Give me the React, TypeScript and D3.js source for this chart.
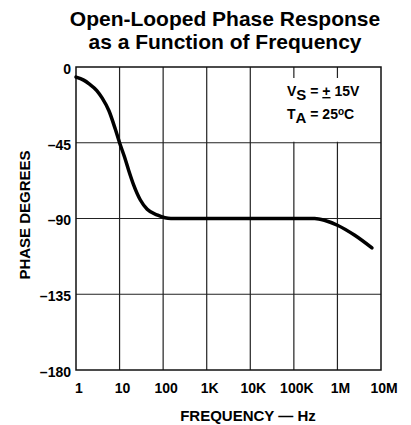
import { useEffect, useRef } from 'react';
import * as d3 from 'd3';

// values
const freqHz = [1, 1.5, 2, 3, 4, 5.7, 8, 10, 13, 16, 21, 30, 43, 75, 150, 1e3, 1e4, 1e5, 3e5, 5e5, 1e6, 2.5e6, 6.2e6];
const phaseDeg = [-6, -7.8, -10, -14, -18.5, -26, -37, -45, -53.5, -61, -70, -79, -84.5, -88, -90, -90, -90, -90, -90, -91, -94, -100, -107.5];

const xTicks = [1, 10, 100, 1e3, 1e4, 1e5, 1e6, 1e7];
const xTickLabels = ['1', '10', '100', '1K', '10K', '100K', '1M', '10M'];
const yTicks = [0, -45, -90, -135, -180];
const yTickLabels = ['0', '–45', '–90', '–135', '–180'];

const FONT = 'Liberation Sans, Arial, Helvetica, sans-serif';

const App = () => {
  const svgRef = useRef<SVGSVGElement>(null);

  useEffect(() => {
    if (!svgRef.current) return;
    const svg = d3.select(svgRef.current);
    svg.selectAll('*').remove();

    const left = 76;
    const right = 381;
    const top = 67;
    const bottom = 370;

    const x = d3.scaleLog().domain([1, 1e7]).range([left, right]);
    const y = d3.scaleLinear().domain([0, -180]).range([top, bottom]);

    // title
    const title = svg
      .append('text')
      .attr('text-anchor', 'middle')
      .attr('font-family', FONT)
      .attr('font-weight', 'bold')
      .attr('font-size', 21)
      .attr('fill', '#000');
    title.append('tspan').attr('x', 225).attr('y', 26).text('Open-Looped Phase Response');
    title.append('tspan').attr('x', 225).attr('y', 49).text('as a Function of Frequency');

    // grid
    const grid = svg.append('g').attr('stroke', '#222').attr('stroke-width', 1.2);
    grid
      .selectAll('line.v')
      .data(xTicks.slice(1, -1))
      .enter()
      .append('line')
      .attr('class', 'v')
      .attr('x1', (d) => x(d))
      .attr('x2', (d) => x(d))
      .attr('y1', top)
      .attr('y2', bottom);
    grid
      .selectAll('line.h')
      .data(yTicks.slice(1, -1))
      .enter()
      .append('line')
      .attr('class', 'h')
      .attr('x1', left)
      .attr('x2', right)
      .attr('y1', (d) => y(d))
      .attr('y2', (d) => y(d));

    // annotation box hides the grid behind it
    svg
      .append('rect')
      .attr('x', 282)
      .attr('y', 78)
      .attr('width', 70)
      .attr('height', y(-45) - 79)
      .attr('fill', '#fff');

    svg
      .append('rect')
      .attr('x', left)
      .attr('y', top)
      .attr('width', right - left)
      .attr('height', bottom - top)
      .attr('fill', 'none')
      .attr('stroke', '#111')
      .attr('stroke-width', 1.5);

    const note = svg
      .append('g')
      .attr('font-family', FONT)
      .attr('font-weight', 'bold')
      .attr('font-size', 14)
      .attr('fill', '#000');
    const l1 = note.append('text').attr('x', 287).attr('y', 96);
    l1.append('tspan').text('V');
    l1.append('tspan').attr('dy', 4).attr('font-size', 15).text('S');
    l1.append('tspan').attr('dy', -4).text(' = ');
    l1.append('tspan').attr('text-decoration', 'underline').text('+');
    l1.append('tspan').text(' 15V');
    const l2 = note.append('text').attr('x', 287).attr('y', 119);
    l2.append('tspan').text('T');
    l2.append('tspan').attr('dy', 4).attr('font-size', 15).text('A');
    l2.append('tspan').attr('dy', -4).text(' = 25');
    l2.append('tspan').attr('dy', -4).attr('font-size', 10).text('o');
    l2.append('tspan').attr('dy', 4).text('C');

    // curve
    const pts = freqHz.map((f, i) => [f, phaseDeg[i]] as [number, number]);
    const line = d3
      .line<[number, number]>()
      .x((d) => x(d[0]))
      .y((d) => y(d[1]))
      .curve(d3.curveMonotoneX);
    svg
      .append('path')
      .attr('d', line(pts))
      .attr('fill', 'none')
      .attr('stroke', '#000')
      .attr('stroke-width', 3.5)
      .attr('stroke-linecap', 'round');

    // tick labels
    svg
      .append('g')
      .attr('font-family', FONT)
      .attr('font-weight', 'bold')
      .attr('font-size', 14)
      .attr('text-anchor', 'middle')
      .selectAll('text')
      .data(xTicks)
      .enter()
      .append('text')
      .attr('x', (d) => x(d) + 3)
      .attr('y', 393)
      .text((d, i) => xTickLabels[i]);

    svg
      .append('g')
      .attr('font-family', FONT)
      .attr('font-weight', 'bold')
      .attr('font-size', 14)
      .attr('text-anchor', 'end')
      .selectAll('text')
      .data(yTicks)
      .enter()
      .append('text')
      .attr('x', 71)
      .attr('y', (d) => y(d) + 2)
      .attr('dy', '0.35em')
      .text((d, i) => yTickLabels[i]);

    // axis titles
    svg
      .append('text')
      .attr('x', 248)
      .attr('y', 421)
      .attr('text-anchor', 'middle')
      .attr('font-family', FONT)
      .attr('font-weight', 'bold')
      .attr('font-size', 15)
      .text('FREQUENCY — Hz');

    svg
      .append('text')
      .attr('transform', 'translate(30,215) rotate(-90)')
      .attr('text-anchor', 'middle')
      .attr('font-family', FONT)
      .attr('font-weight', 'bold')
      .attr('font-size', 15)
      .text('PHASE DEGREES');
  }, []);

  return (
    <svg
      ref={svgRef}
      width={411}
      height={425}
      style={{ position: 'absolute', left: 0, top: 0, background: '#fff' }}
    />
  );
};

export default App;
